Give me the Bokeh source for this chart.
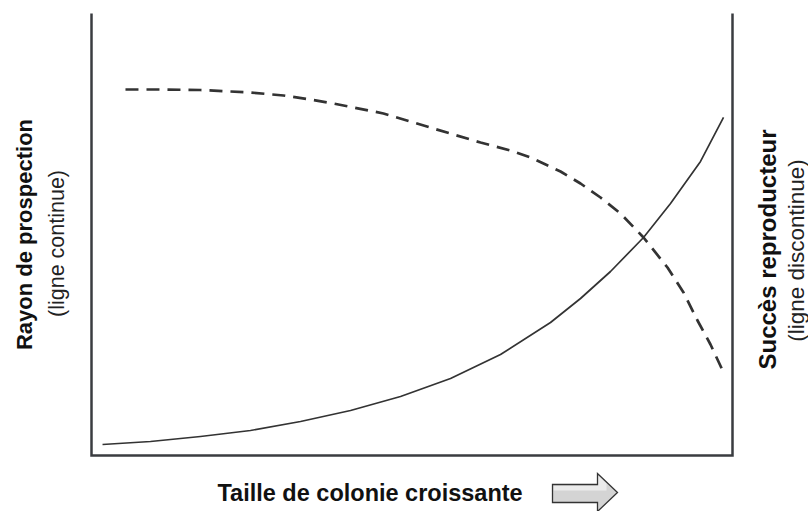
import math
from bokeh.plotting import figure
from bokeh.models import Range1d
from bokeh.core.properties import value
from bokeh.embed import file_html
from bokeh.resources import INLINE

# ---- data (colony size 0-100 on x, response 0-100 on y) ----
solid_x = [1.72, 9.20, 17.00, 24.80, 32.61, 40.41, 48.21, 56.01, 63.81, 71.61,
           76.29, 80.97, 86.12, 90.33, 95.01, 98.60]
solid_y = [2.49, 3.17, 4.30, 5.66, 7.69, 10.18, 13.35, 17.42, 22.85, 30.09,
           35.52, 41.63, 49.32, 57.01, 66.52, 76.50]

dash_x = [5.30, 10.76, 17.00, 24.80, 29.95, 34.17, 37.75, 45.55, 53.35, 60.69,
          65.37, 68.49, 73.17, 76.29, 79.41, 82.53, 86.12, 89.86, 92.36, 94.54,
          96.57, 98.60]
dash_y = [82.81, 82.81, 82.69, 82.13, 81.45, 80.54, 79.64, 77.38, 73.98, 70.81,
          69.00, 67.42, 64.25, 61.54, 58.37, 54.75, 49.32, 42.53, 36.88, 30.54,
          25.11, 18.78]

left_title = "Rayon de prospection"
left_sub = "(ligne continue)"
right_title = "Succès reproducteur"
right_sub = "(ligne discontinue)"
bottom_title = "Taille de colonie croissante"

# ---- layout: page pixels of the frame ----
W, H = 808, 511
OX, OY = 0, 0            # page position of the canvas
FX0, FX1 = 91.0, 732.0   # page x of data x=0 and x=100
FY0, FY1 = 455.0, 13.0   # page y of data y=0 and y=100
SX = (FX1 - FX0) / 100.0
SY = (FY0 - FY1) / 100.0

def px(page_x):
    return (page_x - FX0) / SX

def py(page_y):
    return (FY0 - page_y) / SY

p = figure(width=W, height=H, output_backend="svg", toolbar_location=None,
           x_range=Range1d(px(OX), px(OX + W)), y_range=Range1d(py(OY + H), py(OY)),
           min_border=0, x_axis_type=None, y_axis_type=None)
p.grid.visible = False
p.outline_line_color = None
p.background_fill_color = "white"
p.border_fill_color = "white"

INK = "#3a3c40"

# frame: left, bottom, right
p.line([0, 0, 100, 100], [100, 0, 0, 100], line_color=INK, line_width=2.5,
       line_join="miter")

# curves
p.line(solid_x, solid_y, line_color="#333333", line_width=1.7, line_join="round")
p.line(dash_x, dash_y, line_color="#333333", line_width=2.7, line_dash="13 8",
       line_join="round")

FONT = value("Liberation Sans")

# left labels
p.text(x=[px(24)], y=[py(234)], text=[left_title], angle=math.pi / 2,
       text_align="center", text_baseline="middle", text_font=FONT,
       text_font_style="bold", text_font_size="22px", text_color="#111111")
p.text(x=[px(56)], y=[py(243)], text=[left_sub], angle=math.pi / 2,
       text_align="center", text_baseline="middle", text_font=FONT,
       text_font_size="21.5px", text_color="#222222")

# right labels
p.text(x=[px(767)], y=[py(249)], text=[right_title], angle=math.pi / 2,
       text_align="center", text_baseline="middle", text_font=FONT,
       text_font_style="bold", text_font_size="24px", text_color="#111111")
p.text(x=[px(796)], y=[py(250)], text=[right_sub], angle=math.pi / 2,
       text_align="center", text_baseline="middle", text_font=FONT,
       text_font_size="22.5px", text_color="#222222")

# bottom label
p.text(x=[px(217)], y=[py(492)], text=[bottom_title],
       text_align="left", text_baseline="middle", text_font=FONT,
       text_font_style="bold", text_font_size="23.5px", text_color="#111111")

# block arrow
ax = [552, 597, 597, 617, 597, 597, 552]
ay = [484, 484, 473, 492, 511, 502, 502]
p.patch([px(v) for v in ax], [py(v) for v in ay], fill_color="#d4d4d4",
        line_color=None)
# lighter upper band for a slight gradient feel
p.patch([px(553), px(597), px(597), px(598), px(606), px(606), px(553)],
        [py(485), py(485), py(475), py(475), py(483), py(490), py(490)],
        fill_color="#ebebeb", line_color=None)
p.patch([px(v) for v in ax], [py(v) for v in ay], fill_color=None,
        line_color="#333333", line_width=1.3, line_join="miter")

open("out.html", "w").write(file_html(p, INLINE))
